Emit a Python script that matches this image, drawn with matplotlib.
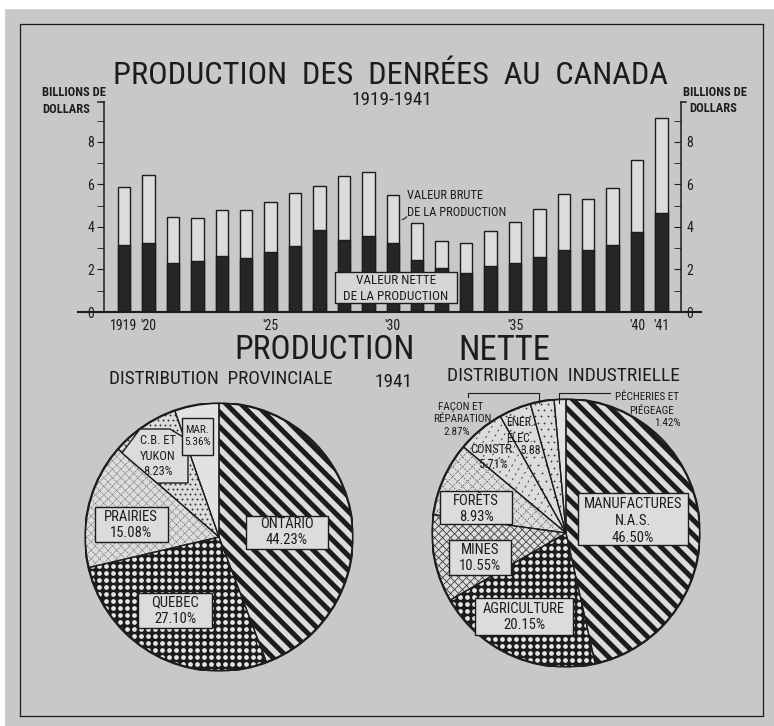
import matplotlib
matplotlib.use('Agg')
import matplotlib.pyplot as plt
import numpy as np
from matplotlib.collections import LineCollection
from matplotlib.patches import Polygon, Rectangle, Circle

plt.rcParams['font.family'] = ['Roboto Condensed', 'DejaVu Sans Condensed', 'Liberation Sans Narrow',
                               'Roboto', 'DejaVu Sans']
plt.rcParams['font.stretch'] = 'condensed'

# --- donnees ---
annees = list(range(1919, 1942))
valeur_brute = [5.88, 6.44, 4.47, 4.41, 4.78, 4.78, 5.16, 5.58, 5.95, 6.39, 6.61, 5.50,
                4.19, 3.33, 3.25, 3.83, 4.23, 4.84, 5.55, 5.34, 5.84, 7.16, 9.11]
valeur_nette = [3.14, 3.27, 2.30, 2.39, 2.64, 2.53, 2.83, 3.09, 3.86, 3.41, 3.58, 3.23,
                2.47, 2.06, 1.84, 2.16, 2.31, 2.59, 2.92, 2.92, 3.14, 3.75, 4.64]
etiq_annees = [1919, 1920, 1925, 1930, 1935, 1940, 1941]
etiq_textes = ['1919', "'20", "'25", "'30", "'35", "'40", "'41"]

provinces = ['ONTARIO', 'QUEBEC', 'PRAIRIES', 'C.B. ET\nYUKON', 'MAR.']
part_prov = [44.23, 27.10, 15.08, 8.23, 5.36]

industries = ['MANUFACTURES\nN.A.S.', 'AGRICULTURE', 'MINES', 'FORÊTS', 'CONSTR.',
              'ÉNER.\nÉLEC.', 'FAÇON ET\nRÉPARATION', 'PÊCHERIES ET\nPIÉGEAGE']
part_ind = [46.50, 20.15, 10.55, 8.93, 5.71, 3.88, 2.87, 1.42]

# --- couleurs ---
fond = '#c8c8c8'
clair = '#dcdcdc'
blanc = '#e2e2e2'
encre = '#1c1c1c'

W, H = 774, 726
fig = plt.figure(figsize=(W / 100, H / 100), dpi=100)
fig.patch.set_facecolor(fond)


def boite(x0, y0, x1, y1):
    # axes en pixels (origine en haut a gauche)
    return [x0 / W, 1 - y1 / H, (x1 - x0) / W, (y1 - y0) / H]


# --- histogramme ---
ax = fig.add_axes(boite(104, 101.6, 681, 312))
ax.patch.set_alpha(0)
ax.bar(annees, valeur_brute, width=0.51, color=clair, edgecolor=encre, linewidth=1, zorder=2)
ax.bar(annees, valeur_nette, width=0.51, color='#262626', edgecolor=encre, linewidth=1, zorder=3)
ax.set_xlim(1918.18, 1941.8)
ax.set_ylim(0, 9.9)
ax.plot([1917.1, 1942.6], [0, 0], color=encre, lw=1.5, clip_on=False, zorder=4)
for s in ['top', 'right', 'bottom']:
    ax.spines[s].set_visible(False)
ax.spines['left'].set_color(encre)
ax.spines['left'].set_linewidth(1.1)
ax.set_yticks([0, 2, 4, 6, 8])
ax.set_yticks([1, 3, 5, 7, 9], minor=True)
ax.tick_params(axis='y', which='both', direction='out', length=5, labelsize=10,
               colors=encre, pad=2)
ax.set_xticks(etiq_annees)
ax.set_xticklabels(etiq_textes, fontsize=10, color=encre)
ax.tick_params(axis='x', length=0, pad=5)

ax2 = ax.twinx()
ax2.set_ylim(0, 9.9)
for s in ['top', 'left', 'bottom']:
    ax2.spines[s].set_visible(False)
ax2.spines['right'].set_color(encre)
ax2.spines['right'].set_linewidth(1.1)
ax2.set_yticks([0, 2, 4, 6, 8])
ax2.set_yticks([1, 3, 5, 7, 9], minor=True)
ax2.tick_params(axis='y', which='both', direction='in', length=5, labelsize=10,
                colors=encre, pad=4)

ax.annotate('', xy=(1930.27, 4.35), xytext=(1930.62, 4.6),
            arrowprops=dict(arrowstyle='-', color=encre, lw=0.8,
                            connectionstyle='arc3,rad=-0.4'))


# --- textures des secteurs ---
def rayures(a, w, angle, pas, lw, couleur, ls='-'):
    t = np.deg2rad(angle)
    d = np.array([np.cos(t), np.sin(t)])
    n = np.array([-d[1], d[0]])
    segs = [[o * n - 1.6 * d, o * n + 1.6 * d] for o in np.arange(-1.6, 1.6, pas)]
    lc = LineCollection(segs, colors=couleur, linewidths=lw, linestyles=ls, zorder=2)
    a.add_collection(lc)
    lc.set_clip_path(w)


def points(a, w, pas, taille, couleur, decale=True, marker='o'):
    g = np.arange(-1.05, 1.05, pas)
    xx, yy = np.meshgrid(g, g)
    if decale:
        xx[1::2] += pas / 2
    l, = a.plot(xx.ravel(), yy.ravel(), ls='none', marker=marker, ms=taille,
                color=couleur, mew=0, zorder=2)
    l.set_clip_path(w)


def camembert(pos, valeurs, faces, textures):
    a = fig.add_axes(boite(*pos))
    wedges, _ = a.pie(valeurs, startangle=90, counterclock=False, radius=1,
                      colors=faces, wedgeprops=dict(linewidth=0, zorder=1))
    for w, tex in zip(wedges, textures):
        for f, kw in tex:
            f(a, w, **kw)
    a.pie(valeurs, startangle=90, counterclock=False, radius=1,
          wedgeprops=dict(fill=False, edgecolor=encre, linewidth=0.9, zorder=3))
    a.add_patch(Circle((0, 0), 1, fill=False, edgecolor=encre, lw=1.6, zorder=4))
    a.set_xlim(-1, 1)
    a.set_ylim(-1, 1)
    a.set_aspect('equal')
    a.axis('off')
    return a


bandes = [(rayures, dict(angle=-45, pas=0.078, lw=3.6, couleur=encre))]
grille = [(points, dict(pas=0.052, taille=3.4, couleur='#e6e6e6', decale=False))]

camembert((85, 403, 353, 671), part_prov,
          [clair, encre, clair, clair, blanc],
          [bandes, grille,
           [(rayures, dict(angle=45, pas=0.045, lw=0.4, couleur='#555555', ls=(0, (3, 1.5)))),
            (rayures, dict(angle=-45, pas=0.045, lw=0.4, couleur='#555555', ls=(0, (3, 1.5))))],
           [(points, dict(pas=0.037, taille=1.4, couleur='#333333'))],
           []])

camembert((432, 399, 700, 667), part_ind,
          [clair, encre, clair, clair, clair, clair, clair, blanc],
          [bandes, grille,
           [(rayures, dict(angle=45, pas=0.042, lw=0.55, couleur='#2e2e2e')),
            (rayures, dict(angle=-45, pas=0.042, lw=0.55, couleur='#2e2e2e'))],
           [(rayures, dict(angle=45, pas=0.052, lw=0.45, couleur='#4a4a4a', ls=(0, (3, 2)))),
            (rayures, dict(angle=-45, pas=0.052, lw=0.45, couleur='#4a4a4a', ls=(0, (3, 2))))],
           [(rayures, dict(angle=60, pas=0.055, lw=0.7, couleur='#3a3a3a', ls=(0, (2, 4))))],
           [(points, dict(pas=0.06, taille=1.3, couleur='#333333'))],
           [(points, dict(pas=0.048, taille=1.3, couleur='#333333'))],
           []])

# --- calque de texte en pixels ---
ov = fig.add_axes([0, 0, 1, 1])
ov.set_xlim(0, W)
ov.set_ylim(H, 0)
ov.axis('off')
ov.patch.set_alpha(0)

ov.add_patch(Rectangle((0, 0), W, 8, color='white', zorder=0))
ov.add_patch(Rectangle((0, 0), 4, H, color='white', zorder=0))
ov.plot([20, 763, 763], [716, 716, 24], color=encre, lw=0.9)
ov.plot([20, 20, 763], [716, 24, 24], color=encre, lw=0.9)
ov.plot([98, 104], [102, 102], color=encre, lw=1.1)
ov.plot([681, 686], [101.6, 101.6], color=encre, lw=1.1)

rend = fig.canvas.get_renderer()


def ajuste(x0, x1, y, s, **kw):
    t = ov.text((x0 + x1) / 2, y, s, ha='center', va='center', fontsize=20, color=encre, **kw)
    w = t.get_window_extent(rend).width
    t.set_fontsize(20 * (x1 - x0) / w)
    return t


ajuste(113, 668, 75, 'PRODUCTION  DES  DENRÉES  AU  CANADA')
ajuste(352, 432, 100, '1919-1941')
ajuste(235, 415, 350, 'PRODUCTION')
ajuste(458, 550, 350, 'NETTE')
ajuste(108, 333, 379, 'DISTRIBUTION  PROVINCIALE')
ajuste(375, 413, 382, '1941')
ajuste(447, 680, 376, 'DISTRIBUTION  INDUSTRIELLE')

ov.text(42, 101, 'BILLIONS DE\nDOLLARS', ha='left', va='center', fontsize=9,
        color=encre, weight='bold', linespacing=1.45)
ov.text(683, 93, 'BILLIONS DE', ha='left', va='center', fontsize=9, color=encre, weight='bold')
ov.text(689, 109, 'DOLLARS', ha='left', va='center', fontsize=9, color=encre, weight='bold')

ov.text(407, 204, 'VALEUR BRUTE\nDE LA PRODUCTION', ha='left', va='center', fontsize=9,
        color=encre, linespacing=1.35)
ov.add_patch(Rectangle((335, 272), 122, 31, facecolor='#d6d6d6', edgecolor=encre, lw=1, zorder=5))
ov.text(396, 288, 'VALEUR NETTE\nDE LA PRODUCTION', ha='center', va='center', fontsize=9.5,
        color=encre, linespacing=1.3, zorder=6)


def etiquette(x, y, nom, p, cadre=None, taille=9, sep='\n'):
    if cadre is not None:
        x0, y0, x1, y1 = cadre
        ov.add_patch(Rectangle((x0, y0), x1 - x0, y1 - y0, facecolor=clair,
                               edgecolor=encre, lw=1, zorder=5))
    ov.text(x, y, f'{nom}{sep}{p:.2f}%', ha='center', va='center', fontsize=taille,
            color=encre, linespacing=1.25, zorder=6)


def lignes(pos, textes, taille=8):
    for (x, y), s in zip(pos, textes):
        ov.text(x, y, s, ha='center', va='center', fontsize=taille, color=encre, zorder=6)


# province
etiquette(287, 532, provinces[0], part_prov[0], (246, 516, 328, 549), taille=10.5)
etiquette(175, 611, provinces[1], part_prov[1], (138, 593, 212, 628), taille=10.5)
etiquette(131, 525, provinces[2], part_prov[2], (95, 507, 168, 542), taille=10.5)
ov.add_patch(Polygon([(122, 453), (140, 429), (170, 429), (188, 440), (188, 483), (157, 483)],
                     closed=True, facecolor=clair, edgecolor=encre, lw=1, zorder=5))
etiquette(158, 456, provinces[3], part_prov[3], taille=9)
etiquette(197, 436, provinces[4], part_prov[4], (182, 418, 213, 455), taille=8)

# industrie
etiquette(633, 521, industries[0], part_ind[0], (578, 493, 688, 545), taille=10.5)
etiquette(524, 617, industries[1], part_ind[1], (475, 598, 573, 635), taille=10.5)
etiquette(480, 558, industries[2], part_ind[2], (449, 540, 511, 575), taille=10.5)
etiquette(476, 509, industries[3], part_ind[3], (440, 491, 512, 524), taille=10.5)
etiquette(493, 457, industries[4], part_ind[4], taille=9)
ov.text(520, 431, industries[5], ha='center', va='center', fontsize=8.5, color=encre,
        linespacing=1.3, zorder=6)
ov.text(531, 451, f'{part_ind[5]:.2f}', ha='center', va='center', fontsize=8.5, color=encre, zorder=6)
lignes([(461, 407), (462, 419), (457, 432)],
       industries[6].split('\n') + [f'{part_ind[6]:.2f}%'])
lignes([(647, 397), (652, 411), (667, 423)],
       industries[7].split('\n') + [f'{part_ind[7]:.2f}%'])

ov.plot([468, 468, 539, 539], [397, 393, 393, 403], color=encre, lw=0.8)
ov.plot([559, 559, 610], [403, 393, 393], color=encre, lw=0.8)

fig.savefig('out.png', dpi=100, facecolor=fig.get_facecolor())
